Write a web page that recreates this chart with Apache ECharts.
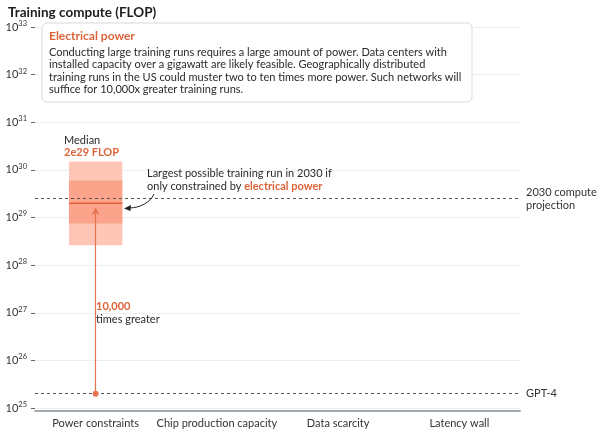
<!DOCTYPE html>
<html><head><meta charset="utf-8">
<script src="https://cdn.jsdelivr.net/npm/echarts@6/dist/echarts.min.js"></script>
<style>html,body{margin:0;padding:0;background:#fff}#c{width:600px;height:435px}</style>
</head><body><div id="c"></div>
<script>
const categories = ['Power constraints', 'Chip production capacity', 'Data scarcity', 'Latency wall'];
const boxOuter = [2.6e28, 1.5e30];
const boxInner = [7.5e28, 6e29];
const medianValue = 2e29;
const gpt4Value = 2e25;
const projection2030 = 2.5e29;
const arrowTop = 1.6e29;
const yMin = 1e25, yMax = 1e33;

const ORANGE = '#dc6239';
const FONT = 'Lato';
const chart = echarts.init(document.getElementById('c'));

chart.setOption({
  animation: false,
  textStyle: { fontFamily: FONT },
  title: { text: 'Training compute (FLOP)', left: 3, top: 1,
    textStyle: { fontSize: 13.5, fontWeight: 'bold', color: '#1c1c1c', fontFamily: FONT } },
  grid: { left: 35, right: 80, top: 27, bottom: 27, containLabel: false },
  xAxis: {
    type: 'category', data: categories, offset: 3,
    axisLine: { lineStyle: { color: '#a4a9ae', width: 2 } },
    axisTick: { alignWithLabel: true, length: 4, lineStyle: { color: '#888' } },
    axisLabel: { color: '#333', fontSize: 11, margin: 7, fontFamily: FONT, interval: 0 },
    splitLine: { show: false }
  },
  yAxis: {
    type: 'log', logBase: 10, min: yMin, max: yMax, splitNumber: 8,
    axisLine: { show: false },
    axisTick: { show: true, length: 4, lineStyle: { color: '#666' } },
    splitLine: { lineStyle: { color: '#eceff1', width: 1 } },
    axisLabel: {
      margin: 8, color: '#333',
      formatter: v => '{b|10}{s|' + Math.round(Math.log10(v)) + '}',
      rich: { b: { fontSize: 11, fontFamily: FONT, color: '#333' },
              s: { fontSize: 7.5, fontFamily: FONT, color: '#333', padding: [0, 0, 7, 0] } }
    }
  },
  series: [
    {
      type: 'custom',
      data: [[0, boxOuter[0], boxOuter[1], boxInner[0], boxInner[1], medianValue]],
      renderItem: (params, api) => {
        const w = api.size([1, 0])[0] * 0.44;
        const x = api.coord([api.value(0), api.value(5)])[0] - w / 2;
        const o1 = api.coord([api.value(0), api.value(1)])[1];
        const o2 = api.coord([api.value(0), api.value(2)])[1];
        const i1 = api.coord([api.value(0), api.value(3)])[1];
        const i2 = api.coord([api.value(0), api.value(4)])[1];
        const m = api.coord([api.value(0), api.value(5)])[1];
        return { type: 'group', children: [
          { type: 'rect', shape: { x, y: o2, width: w, height: o1 - o2 }, style: { fill: '#fdc6b6' } },
          { type: 'rect', shape: { x, y: i2, width: w, height: i1 - i2 }, style: { fill: '#fba48b' } },
          { type: 'line', shape: { x1: x, y1: m, x2: x + w, y2: m }, style: { stroke: '#e0603a', lineWidth: 1.5 } }
        ] };
      },
      z: 2
    },
    {
      type: 'line', data: [], silent: true,
      markLine: {
        silent: true, symbol: 'none', animation: false,
        lineStyle: { type: [3, 3], color: '#555', width: 1 },
        label: { position: 'end', color: '#333', fontSize: 11, fontFamily: FONT, distance: 6, lineHeight: 13 },
        data: [
          { yAxis: projection2030, label: { formatter: '2030 compute\nprojection' } },
          { yAxis: gpt4Value, label: { formatter: 'GPT-4' } }
        ]
      },
      z: 3
    },
    {
      type: 'line', data: [], silent: true,
      markLine: {
        silent: true, animation: false,
        symbol: ['circle', 'arrow'], symbolSize: [6, 7],
        lineStyle: { type: 'solid', color: '#e5744f', width: 1.2 },
        itemStyle: { color: ORANGE },
        label: { show: false },
        data: [[{ coord: [categories[0], gpt4Value] }, { coord: [categories[0], arrowTop] }]]
      },
      z: 4
    }
  ],
  graphic: [
    { type: 'rect', z: 100, shape: { x: 42, y: 23, width: 430, height: 79, r: 5 },
      style: { fill: '#fff', stroke: '#d6d9dc', lineWidth: 1 } },
    { type: 'text', z: 101, x: 49, y: 30, style: { text: 'Electrical power', fill: ORANGE, fontSize: 12, fontWeight: 'bold', fontFamily: FONT } },
    { type: 'text', z: 101, x: 49, y: 46, style: {
      text: 'Conducting large training runs requires a large amount of power. Data centers with\ninstalled capacity over a gigawatt are likely feasible. Geographically distributed\ntraining runs in the US could muster two to ten times more power. Such networks will\nsuffice for 10,000x greater training runs.',
      fill: '#2a2a2a', fontSize: 11, lineHeight: 12.4, fontFamily: FONT } },
    { type: 'text', z: 50, x: 64, y: 135, style: { text: 'Median', fill: '#2a2a2a', fontSize: 11, fontFamily: FONT } },
    { type: 'text', z: 50, x: 64, y: 147, style: { text: '2e29 FLOP', fill: ORANGE, fontSize: 11, fontWeight: 'bold', fontFamily: FONT } },
    { type: 'text', z: 50, x: 147, y: 167, style: {
      rich: { n: { fill: '#2a2a2a', fontSize: 11, fontFamily: FONT, lineHeight: 13 },
              o: { fill: ORANGE, fontSize: 11, fontWeight: 'bold', fontFamily: FONT, lineHeight: 13 } },
      text: '{n|Largest possible training run in 2030 if}\n{n|only constrained by }{o|electrical power}' } },
    { type: 'bezierCurve', z: 50, shape: { x1: 154, y1: 194, cpx1: 150, cpy1: 203, x2: 130, y2: 208, cpx2: 140, cpy2: 207.5 },
      style: { stroke: '#222', lineWidth: 1, fill: null } },
    { type: 'polygon', z: 50, shape: { points: [[124, 208.5], [131, 205], [130.5, 211]] }, style: { fill: '#222' } },
    { type: 'text', z: 50, x: 96, y: 301, style: { text: '10,000', fill: ORANGE, fontSize: 11, fontWeight: 'bold', fontFamily: FONT } },
    { type: 'text', z: 50, x: 96, y: 314, style: { text: 'times greater', fill: '#2a2a2a', fontSize: 11, fontFamily: FONT } }
  ]
});
</script></body></html>
